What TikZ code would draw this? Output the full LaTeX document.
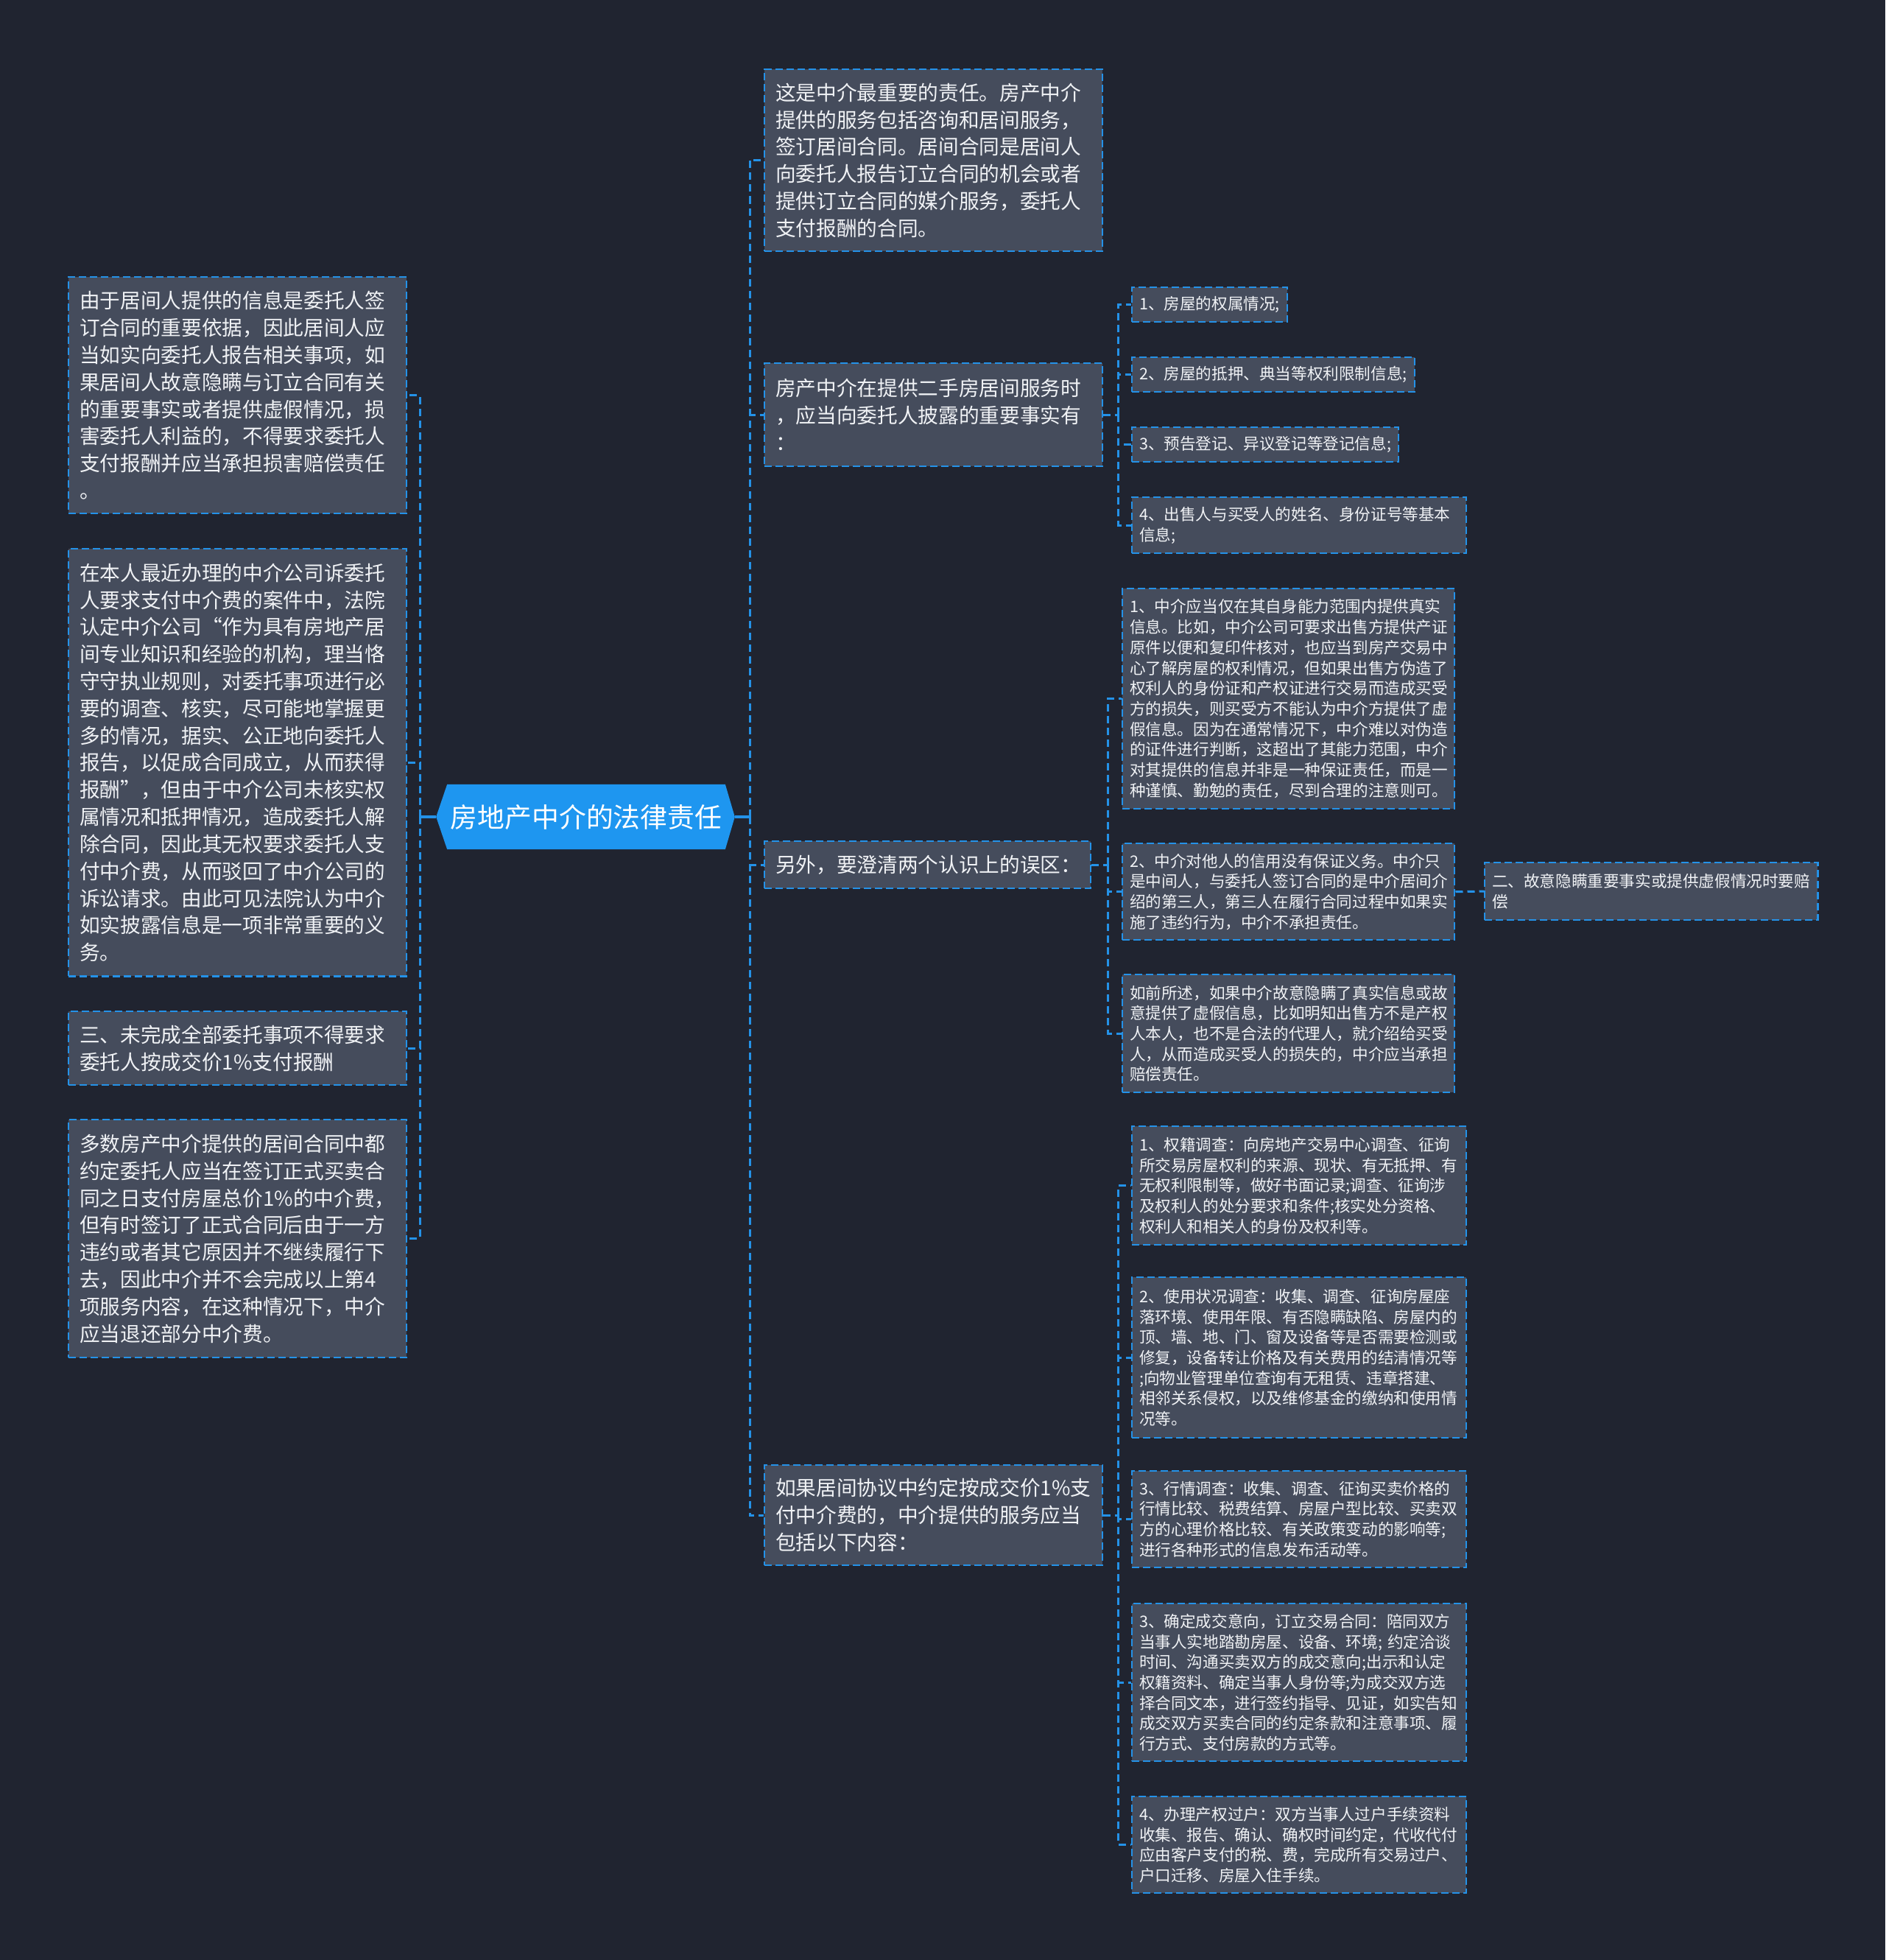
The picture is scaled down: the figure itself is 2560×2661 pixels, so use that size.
\documentclass[tikz,border=0pt]{standalone}
\usepackage{fontspec}
\setmainfont{Noto Sans CJK SC}
\usetikzlibrary{positioning,backgrounds}
\definecolor{mapnavy}{RGB}{32,36,48}
\definecolor{cardgray}{RGB}{69,76,92}
\definecolor{cardblue}{RGB}{36,146,232}
\definecolor{rootblue}{RGB}{30,150,240}
\definecolor{cardwhite}{RGB}{240,242,245}

\tikzset{
  card/.style={draw=cardblue, fill=cardgray, line width=0.022cm,
    dash pattern=on 0.1cm off 0.05cm, text=cardwhite, align=left,
    anchor=north west, inner xsep=0.15cm, inner ysep=0pt,
    font=\fontsize{7.87pt}{10.47pt}\selectfont},
  subcard/.style={card, inner xsep=0.1cm,
    font=\fontsize{6.14pt}{7.88pt}\selectfont},
  rootnode/.style={inner sep=0pt, text=white, minimum width=3.76cm,
    minimum height=0.87cm, font=\fontsize{10.47pt}{12pt}\selectfont},
  link/.style={draw=cardblue, line width=0.03cm,
    dash pattern=on 0.1cm off 0.06cm},
  rootlink/.style={draw=cardblue, line width=0.035cm},
}

\begin{document}
\begin{tikzpicture}[x=0.01cm,y=-0.01cm]
  \useasboundingbox (0,0) rectangle (2560,2661);

  % centre
  \node[rootnode] (root) at (796,1109) {房地产中介的法律责任};
  \coordinate (rootL) at ([xshift=-0.15cm]root.west);
  \coordinate (rootR) at ([xshift=0.13cm]root.east);

  % left side
  \node[card, text width=4.29cm, minimum height=3.21cm] (l1) at (92,375)
    {由于居间人提供的信息是委托人签\\订合同的重要依据，因此居间人应\\当如实向委托人报告相关事项，如\\果居间人故意隐瞒与订立合同有关\\的重要事实或者提供虚假情况，损\\害委托人利益的，不得要求委托人\\支付报酬并应当承担损害赔偿责任\\。};
  \node[card, text width=4.29cm, minimum height=5.80cm] (l2) at (92,744)
    {在本人最近办理的中介公司诉委托\\人要求支付中介费的案件中，法院\\认定中介公司“作为具有房地产居\\间专业知识和经验的机构，理当恪\\守守执业规则，对委托事项进行必\\要的调查、核实，尽可能地掌握更\\多的情况，据实、公正地向委托人\\报告，以促成合同成立，从而获得\\报酬”，但由于中介公司未核实权\\属情况和抵押情况，造成委托人解\\除合同，因此其无权要求委托人支\\付中介费，从而驳回了中介公司的\\诉讼请求。由此可见法院认为中介\\如实披露信息是一项非常重要的义\\务。};
  \node[card, text width=4.29cm, minimum height=1.00cm] (l3) at (92,1372)
    {三、未完成全部委托事项不得要求\\委托人按成交价1\%支付报酬};
  \node[card, text width=4.29cm, minimum height=3.23cm] (l4) at (92,1519)
    {多数房产中介提供的居间合同中都\\约定委托人应当在签订正式买卖合\\同之日支付房屋总价1\%的中介费，\\但有时签订了正式合同后由于一方\\违约或者其它原因并不继续履行下\\去，因此中介并不会完成以上第4\\项服务内容，在这种情况下，中介\\应当退还部分中介费。};

  % right side
  \node[card, text width=4.29cm, minimum height=2.47cm] (r1) at (1037,93)
    {这是中介最重要的责任。房产中介\\提供的服务包括咨询和居间服务，\\签订居间合同。居间合同是居间人\\向委托人报告订立合同的机会或者\\提供订立合同的媒介服务，委托人\\支付报酬的合同。};
  \node[card, text width=4.29cm, minimum height=1.40cm] (r2) at (1037,492)
    {房产中介在提供二手房居间服务时\\，应当向委托人披露的重要事实有\\：};
  \node[card, text width=4.13cm, minimum height=0.64cm] (r3) at (1037,1141)
    {另外，要澄清两个认识上的误区：};
  \node[card, text width=4.29cm, minimum height=1.36cm] (r4) at (1037,1988)
    {如果居间协议中约定按成交价1\%支\\付中介费的，中介提供的服务应当\\包括以下内容：};

  % disclosure items
  \node[subcard, text width=1.91cm, minimum height=0.47cm] (a1) at (1536,389)
    {1、房屋的权属情况;};
  \node[subcard, text width=3.64cm, minimum height=0.47cm] (a2) at (1536,484)
    {2、房屋的抵押、典当等权利限制信息;};
  \node[subcard, text width=3.42cm, minimum height=0.47cm] (a3) at (1536,579)
    {3、预告登记、异议登记等登记信息;};
  \node[subcard, text width=4.34cm, minimum height=0.76cm] (a4) at (1536,674)
    {4、出售人与买受人的姓名、身份证号等基本\\信息;};

  % misunderstandings
  \node[subcard, text width=4.31cm, minimum height=2.99cm] (b1) at (1523,798)
    {1、中介应当仅在其自身能力范围内提供真实\\信息。比如，中介公司可要求出售方提供产证\\原件以便和复印件核对，也应当到房产交易中\\心了解房屋的权利情况，但如果出售方伪造了\\权利人的身份证和产权证进行交易而造成买受\\方的损失，则买受方不能认为中介方提供了虚\\假信息。因为在通常情况下，中介难以对伪造\\的证件进行判断，这超出了其能力范围，中介\\对其提供的信息并非是一种保证责任，而是一\\种谨慎、勤勉的责任，尽到合理的注意则可。};
  \node[subcard, text width=4.31cm, minimum height=1.31cm] (b2) at (1523,1144)
    {2、中介对他人的信用没有保证义务。中介只\\是中间人，与委托人签订合同的是中介居间介\\绍的第三人，第三人在履行合同过程中如果实\\施了违约行为，中介不承担责任。};
  \node[subcard, text width=4.31cm, minimum height=1.60cm] (b3) at (1523,1322)
    {如前所述，如果中介故意隐瞒了真实信息或故\\意提供了虚假信息，比如明知出售方不是产权\\人本人，也不是合法的代理人，就介绍给买受\\人，从而造成买受人的损失的，中介应当承担\\赔偿责任。};
  \node[subcard, text width=4.32cm, minimum height=0.78cm] (c1) at (2015,1170)
    {二、故意隐瞒重要事实或提供虚假情况时要赔\\偿};

  % services
  \node[subcard, text width=4.34cm, minimum height=1.61cm] (d1) at (1536,1528)
    {1、权籍调查：向房地产交易中心调查、征询\\所交易房屋权利的来源、现状、有无抵押、有\\无权利限制等，做好书面记录;调查、征询涉\\及权利人的处分要求和条件;核实处分资格、\\权利人和相关人的身份及权利等。};
  \node[subcard, text width=4.34cm, minimum height=2.18cm] (d2) at (1536,1733)
    {2、使用状况调查：收集、调查、征询房屋座\\落环境、使用年限、有否隐瞒缺陷、房屋内的\\顶、墙、地、门、窗及设备等是否需要检测或\\修复，设备转让价格及有关费用的结清情况等\\;向物业管理单位查询有无租赁、违章搭建、\\相邻关系侵权，以及维修基金的缴纳和使用情\\况等。};
  \node[subcard, text width=4.34cm, minimum height=1.31cm] (d3) at (1536,1996)
    {3、行情调查：收集、调查、征询买卖价格的\\行情比较、税费结算、房屋户型比较、买卖双\\方的心理价格比较、有关政策变动的影响等;\\进行各种形式的信息发布活动等。};
  \node[subcard, text width=4.34cm, minimum height=2.14cm] (d4) at (1536,2176)
    {3、确定成交意向，订立交易合同：陪同双方\\当事人实地踏勘房屋、设备、环境; 约定洽谈\\时间、沟通买卖双方的成交意向;出示和认定\\权籍资料、确定当事人身份等;为成交双方选\\择合同文本，进行签约指导、见证，如实告知\\成交双方买卖合同的约定条款和注意事项、履\\行方式、支付房款的方式等。};
  \node[subcard, text width=4.34cm, minimum height=1.31cm] (d5) at (1536,2438)
    {4、办理产权过户：双方当事人过户手续资料\\收集、报告、确认、确权时间约定，代收代付\\应由客户支付的税、费，完成所有交易过户、\\户口迁移、房屋入住手续。};

  % connectors
  \coordinate (lj) at (570,1109);
  \coordinate (rj) at (1018,1109);
  \draw[rootlink] (rootL) -- (lj);
  \draw[rootlink] (rootR) -- (rj);
  \foreach \n in {l1,l2,l3,l4} \draw[link] (lj) |- (\n.east);
  \foreach \n in {r1,r2,r3,r4} \draw[link] (rj) |- (\n.west);

  \coordinate (aj) at ([xshift=0.2cm]r2.east);
  \draw[link] (r2.east) -- (aj);
  \foreach \n in {a1,a2,a3,a4} \draw[link] (aj) |- (\n.west);

  \coordinate (bj) at ([xshift=0.22cm]r3.east);
  \draw[link] (r3.east) -- (bj);
  \foreach \n in {b1,b2,b3} \draw[link] (bj) |- (\n.west);
  \draw[link] (b2.east) -- (c1.west);

  \coordinate (dj) at ([xshift=0.2cm]r4.east);
  \draw[link] (r4.east) -- (dj);
  \foreach \n in {d1,d2,d3,d4,d5} \draw[link] (dj) |- (\n.west);

  \begin{scope}[on background layer]
    \fill[mapnavy] (0,0) rectangle (2560,2661);
    \fill[rootblue] (root.north west) -- (root.north east) -- (rootR)
      -- (root.south east) -- (root.south west) -- (rootL) -- cycle;
  \end{scope}
\end{tikzpicture}
\end{document}
